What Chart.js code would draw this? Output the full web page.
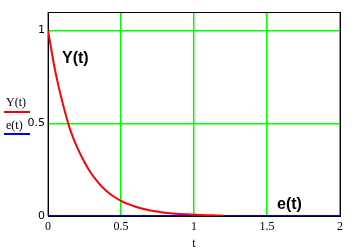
<!DOCTYPE html>
<html>
<head>
<meta charset="utf-8">
<script src="https://cdn.jsdelivr.net/npm/chart.js@4.4.0/dist/chart.umd.min.js"></script>
<style>
  html, body { margin: 0; padding: 0; background: #fff; }
  #wrap { width: 357px; height: 251px; position: relative; }
</style>
</head>
<body>
<div id="wrap"><canvas id="chart" width="357" height="251"></canvas></div>
<script>
// t values and curve readings
var tValues = [0, 0.05, 0.1, 0.15, 0.2, 0.25, 0.3, 0.35, 0.4, 0.45, 0.5, 0.55, 0.6,
               0.65, 0.7, 0.75, 0.8, 0.85, 0.9, 0.95, 1.0, 1.05, 1.1, 1.15, 1.2];
var yValues = [1, 0.78, 0.61, 0.47, 0.37, 0.29, 0.225, 0.175, 0.135, 0.105, 0.082, 0.064, 0.05,
               0.039, 0.03, 0.024, 0.018, 0.014, 0.011, 0.009, 0.007, 0.005, 0.004, 0.003, 0.002];
var eT = [0, 2];
var eValues = [0, 0];
var xTicks = [0, 0.5, 1, 1.5, 2];
var yTicks = [0, 0.5, 1];

function pts(xs, ys) {
    var out = [];
    for (let i = 0; i < xs.length; i++) out.push({x: xs[i], y: ys[i]});
    return out;
}

// black frame + text labels
var decor = {
    id: 'decor',
    beforeDatasetsDraw: function (chart) {
        var a = chart.chartArea, c = chart.ctx;
        c.save();
        c.strokeStyle = '#000';
        c.lineWidth = 1;
        c.strokeRect(Math.round(a.left) + 0.5, Math.round(a.top) + 0.5,
                     Math.round(a.right - a.left), Math.round(a.bottom - a.top));
        c.restore();
    },
    afterDraw: function (chart) {
        var c = chart.ctx;
        c.save();
        c.fillStyle = '#000';
        c.font = 'bold 16px "Liberation Sans", Arial, sans-serif';
        c.textBaseline = 'alphabetic';
        c.fillText('Y(t)', 62, 63);
        c.fillText('e(t)', 277, 209);
        // legend on the left
        c.font = '12px "Liberation Serif", serif';
        c.fillText('Y(t)', 6, 106);
        c.fillText('e(t)', 6, 129);
        c.lineWidth = 2;
        c.strokeStyle = '#ff0000';
        c.beginPath(); c.moveTo(4, 112); c.lineTo(30, 112); c.stroke();
        c.strokeStyle = '#0000ff';
        c.beginPath(); c.moveTo(4, 134); c.lineTo(30, 134); c.stroke();
        c.restore();
    }
};

function fmt(v) { return String(v); }

new Chart(document.getElementById('chart'), {
    type: 'scatter',
    data: {
        datasets: [{
            label: 'Y(t)',
            data: pts(tValues, yValues),
            showLine: true,
            borderColor: '#ff0000',
            borderWidth: 2,
            pointRadius: 0,
            cubicInterpolationMode: 'monotone'
        }, {
            label: 'e(t)',
            data: pts(eT, eValues),
            showLine: true,
            borderColor: '#0000ff',
            borderWidth: 2,
            pointRadius: 0
        }]
    },
    options: {
        responsive: false,
        animation: false,
        layout: { padding: { left: 0, top: 12, right: 17, bottom: 0 } },
        plugins: { legend: { display: false }, tooltip: { enabled: false } },
        scales: {
            x: {
                type: 'linear', min: 0, max: 2,
                afterBuildTicks: function (s) { s.ticks = xTicks.map(v => ({value: v})); },
                afterFit: function (s) { s.height = 35; },
                grid: { color: '#00ff00', lineWidth: 1.5, drawTicks: false },
                border: { display: false },
                ticks: { color: '#000', padding: 4, callback: fmt,
                         font: { family: '"Liberation Serif", serif', size: 12 } },
                title: { display: true, text: 't', color: '#000', padding: 0,
                         font: { family: '"Liberation Serif", serif', size: 12 } }
            },
            y: {
                type: 'linear', min: 0, max: 1.1,
                afterBuildTicks: function (s) { s.ticks = yTicks.map(v => ({value: v})); },
                afterFit: function (s) { s.width = 48; },
                grid: { color: '#00ff00', lineWidth: 1.5, drawTicks: false },
                border: { display: false },
                ticks: { color: '#000', padding: 3, callback: fmt,
                         font: { family: '"DejaVu Sans", sans-serif', size: 11 } }
            }
        }
    },
    plugins: [decor]
});
</script>
</body>
</html>
